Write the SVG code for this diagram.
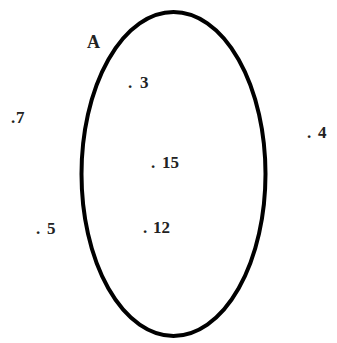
<svg xmlns="http://www.w3.org/2000/svg" width="337" height="343" viewBox="0 0 337 343">
<style>
.lbl{font-family:"Liberation Serif","Times New Roman",serif;font-size:17px;font-weight:bold;fill:#222;}
.set{fill:none;stroke:#000;stroke-width:4;}
</style>
<rect width="337" height="343" fill="#fff"/>
<g id="setA">
<ellipse class="set" cx="173.5" cy="174" rx="92" ry="162"/>
<text class="lbl" x="87" y="48" style="font-size:18px">A</text>
</g>
<g id="e3"><text class="lbl" y="88"><tspan x="128">.</tspan><tspan x="140">3</tspan></text></g>
<g id="e7"><text class="lbl" y="123"><tspan x="11">.</tspan><tspan x="16">7</tspan></text></g>
<g id="e4"><text class="lbl" y="138"><tspan x="307">.</tspan><tspan x="318">4</tspan></text></g>
<g id="e15"><text class="lbl" y="168"><tspan x="151">.</tspan><tspan x="162">15</tspan></text></g>
<g id="e12"><text class="lbl" y="233"><tspan x="143">.</tspan><tspan x="153">12</tspan></text></g>
<g id="e5"><text class="lbl" y="234"><tspan x="36">.</tspan><tspan x="47">5</tspan></text></g>
<g id="connectors"></g>
</svg>
